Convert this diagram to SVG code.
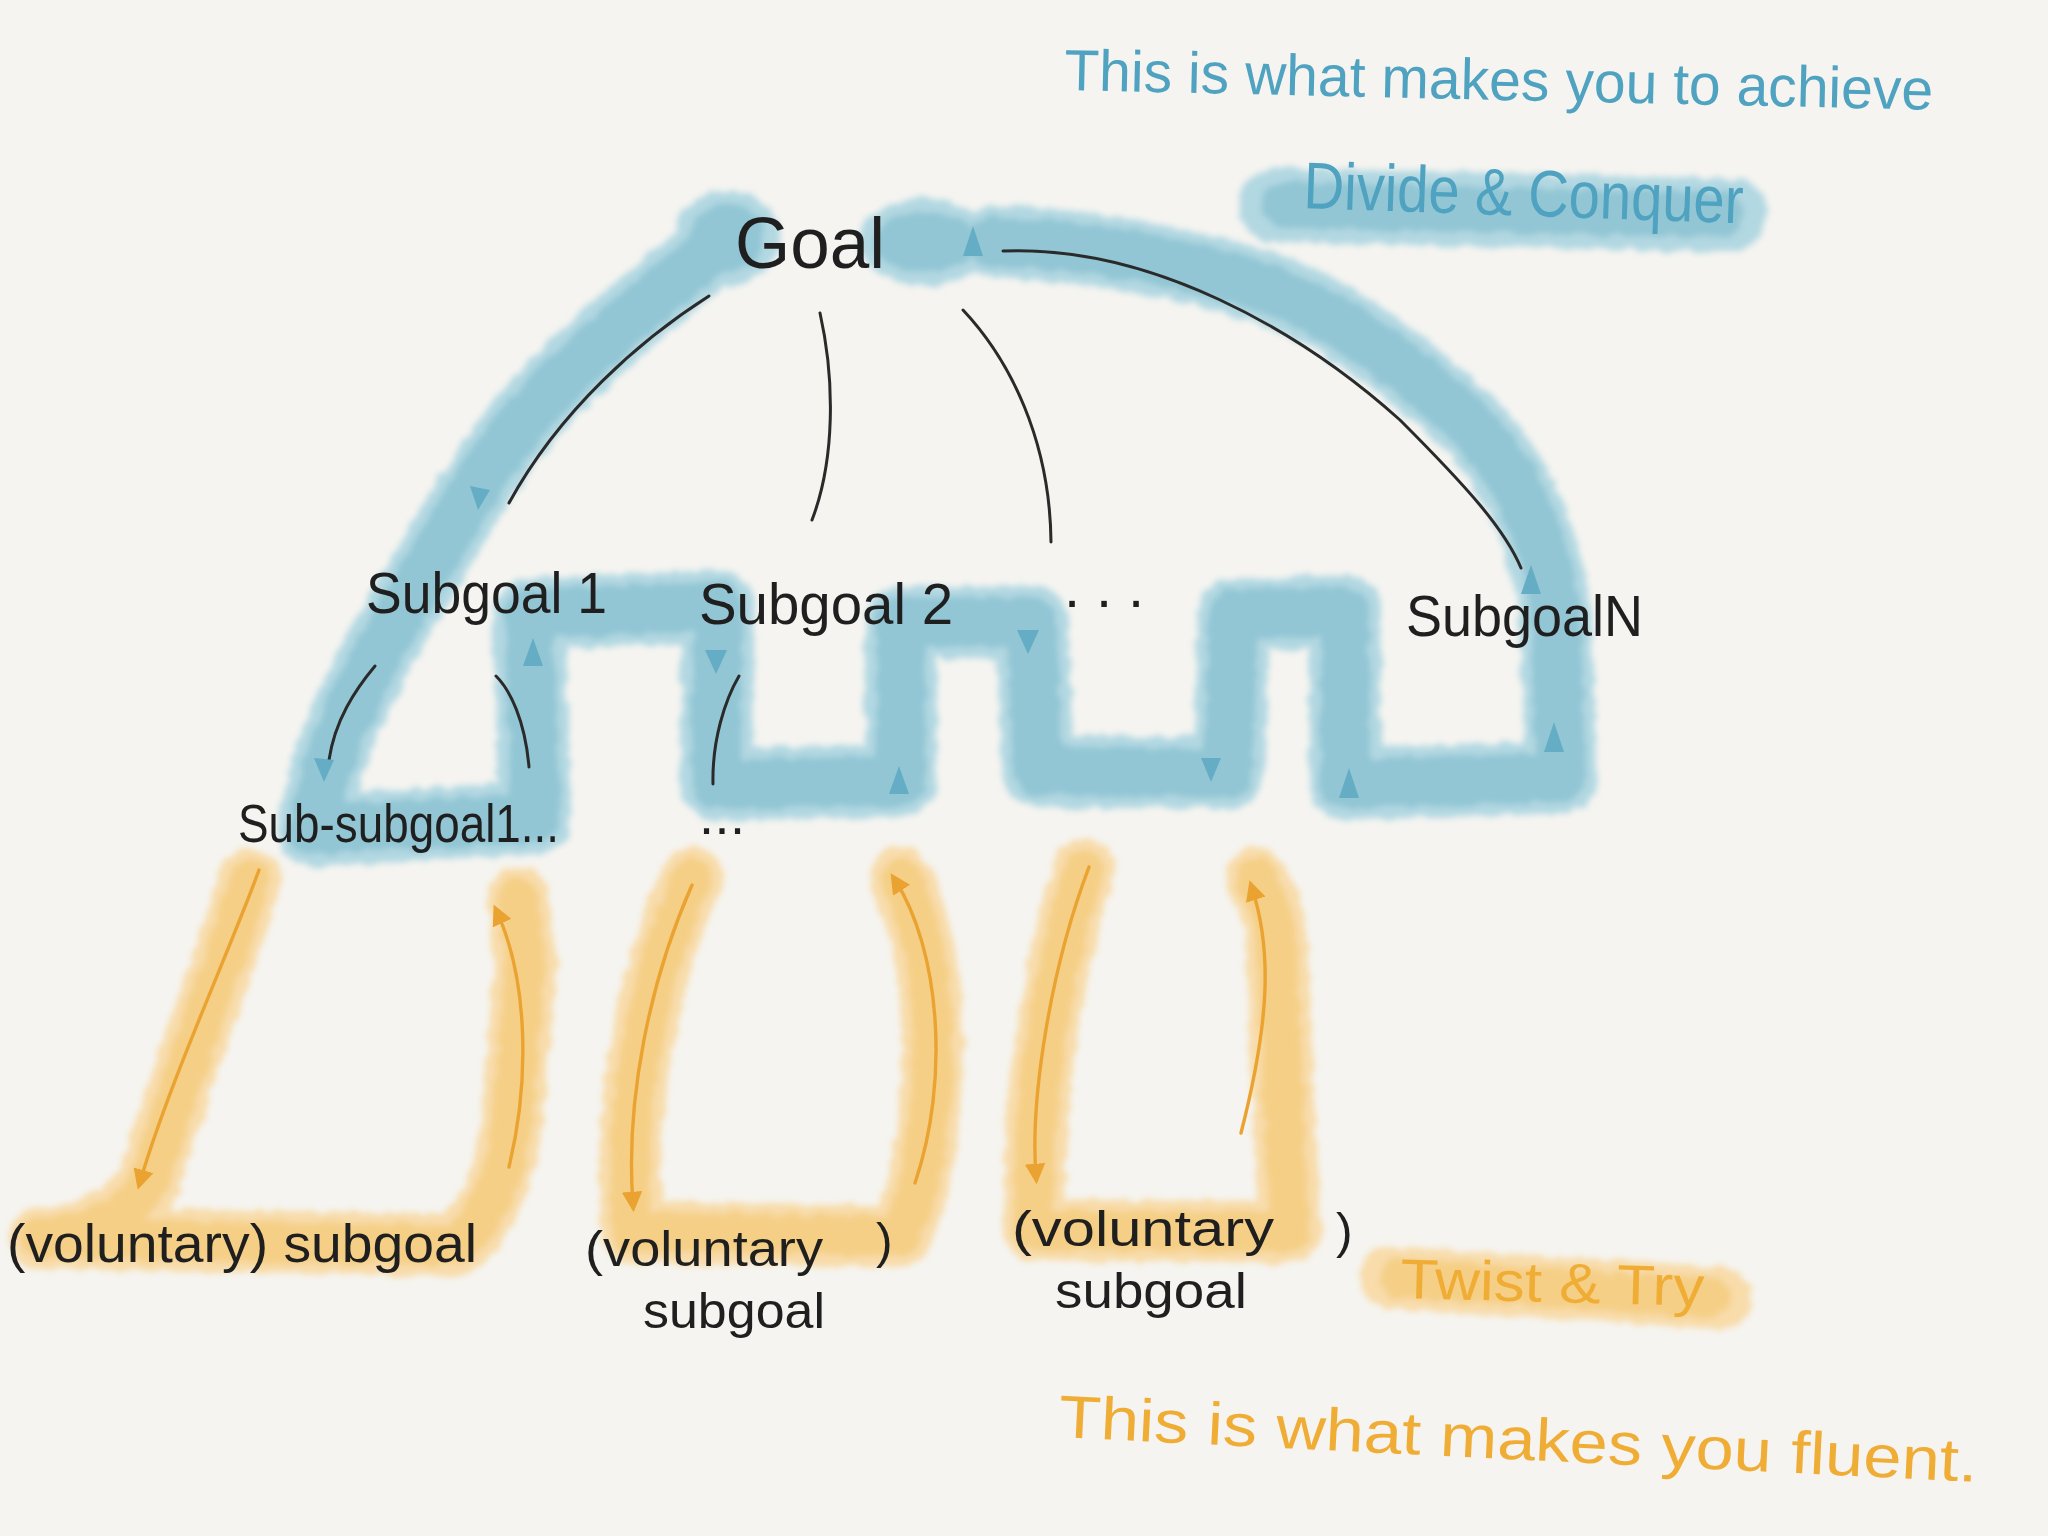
<svg xmlns="http://www.w3.org/2000/svg" width="2048" height="1536" viewBox="0 0 2048 1536">
<style>
.bg{fill:#f5f4f0}
.bo{fill:none;stroke:#b2d8e2;stroke-linecap:round;stroke-linejoin:round}
.bi{fill:none;stroke:#92c6d4;stroke-linecap:round;stroke-linejoin:round}
.oo{fill:none;stroke:#f8dcaa;stroke-linecap:round;stroke-linejoin:round}
.oi{fill:none;stroke:#f5cf86;stroke-linecap:round;stroke-linejoin:round}
.ink{fill:none;stroke:#2a2a2a;stroke-width:3;stroke-linecap:round}
.oline{fill:none;stroke:#eaa331;stroke-width:3.4;stroke-linecap:round}
.barrow{fill:#64adc5}
.t{font-family:"Liberation Sans","DejaVu Sans",sans-serif;fill:#1f1f1f}
.tb{font-family:"Liberation Sans","DejaVu Sans",sans-serif;fill:#4fa2c0}
.to{font-family:"Liberation Sans","DejaVu Sans",sans-serif;fill:#f0ad36}
</style>
<defs>
<filter id="wc" x="-10%" y="-10%" width="120%" height="120%">
<feTurbulence type="fractalNoise" baseFrequency="0.07" numOctaves="2" seed="4" result="n"/>
<feDisplacementMap in="SourceGraphic" in2="n" scale="10" xChannelSelector="R" yChannelSelector="G"/>
<feGaussianBlur stdDeviation="3"/>
</filter>
<marker id="oa" viewBox="0 0 10 10" refX="6" refY="5" markerWidth="6" markerHeight="6" orient="auto-start-reverse" markerUnits="strokeWidth">
<path d="M0,0 L10,5 L0,10 z" fill="#eaa331"/>
</marker>
</defs>
<rect class="bg" width="2048" height="1536"/>

<!-- washes -->
<g id="washes" filter="url(#wc)">
<path id="bpath" class="bo" stroke-width="72" d="M705,255 C650,300 590,350 549,392 C500,445 460,510 431,562 C390,630 350,700 330,760 L312,830 L535,818 L529,614 L718,606 L716,784 L901,781 L901,622 L1032,622 L1038,771 L1228,773 L1234,614 L1345,611 L1345,784 L1561,777 L1556,620 C1545,520 1500,450 1463,418 C1400,360 1320,300 1241,281 C1170,258 1080,245 993,242"/>
<ellipse cx="727" cy="238" rx="52" ry="48" fill="#b2d8e2"/>
<ellipse cx="925" cy="242" rx="66" ry="44" fill="#b2d8e2"/>
<path class="bi" stroke-width="50" d="M705,255 C650,300 590,350 549,392 C500,445 460,510 431,562 C390,630 350,700 330,760 L312,830 L535,818 L529,614 L718,606 L716,784 L901,781 L901,622 L1032,622 L1038,771 L1228,773 L1234,614 L1345,611 L1345,784 L1561,777 L1556,620 C1545,520 1500,450 1463,418 C1400,360 1320,300 1241,281 C1170,258 1080,245 993,242"/>
<ellipse cx="727" cy="238" rx="38" ry="34" fill="#92c6d4"/>
<ellipse cx="925" cy="242" rx="52" ry="30" fill="#92c6d4"/>
<path class="bo" stroke-width="74" d="M1275,205 L1730,215"/>
<path class="bi" stroke-width="46" d="M1285,205 L1720,215"/>

<path class="oo" stroke-width="62" d="M250,880 C225,960 180,1080 150,1180 Q120,1232 40,1238 L455,1245 Q500,1215 512,1120 L526,960 L518,898"/>
<path class="oo" stroke-width="62" d="M692,878 C650,970 630,1080 630,1180 L632,1232 L900,1236 Q925,1190 932,1080 C936,1000 925,930 901,878"/>
<path class="oo" stroke-width="62" d="M1084,870 C1055,960 1036,1080 1034,1180 L1034,1230 L1290,1232 Q1286,1180 1282,1060 L1275,920 L1256,878"/>
<path class="oo" stroke-width="62" d="M1390,1278 L1720,1298"/>
<path class="oi" stroke-width="40" d="M250,880 C225,960 180,1080 150,1180 Q120,1232 40,1238 L455,1245 Q500,1215 512,1120 L526,960 L518,898"/>
<path class="oi" stroke-width="40" d="M692,878 C650,970 630,1080 630,1180 L632,1232 L900,1236 Q925,1190 932,1080 C936,1000 925,930 901,878"/>
<path class="oi" stroke-width="40" d="M1084,870 C1055,960 1036,1080 1034,1180 L1034,1230 L1290,1232 Q1286,1180 1282,1060 L1275,920 L1256,878"/>
<path class="oi" stroke-width="40" d="M1400,1278 L1710,1298"/>
</g>

<!-- connectors -->
<g id="connectors">
<path class="ink" d="M709,296 C640,340 560,410 509,503"/>
<path class="ink" d="M820,313 C835,380 835,460 812,520"/>
<path class="ink" d="M963,310 C1010,360 1050,440 1051,542"/>
<path class="ink" stroke-width="3.8" d="M1003,251 C1150,245 1300,330 1400,420 C1470,490 1505,530 1521,568"/>
<path class="ink" d="M375,666 C355,690 335,720 329,760"/>
<path class="ink" d="M496,676 C510,690 525,720 529,767"/>
<path class="ink" d="M739,676 C725,700 712,740 713,784"/>
<path class="oline" marker-end="url(#oa)" d="M259,870 C230,950 170,1080 140,1182"/>
<path class="oline" marker-end="url(#oa)" d="M509,1167 C530,1080 528,980 497,912"/>
<path class="oline" marker-end="url(#oa)" d="M692,885 C650,980 625,1100 633,1204"/>
<path class="oline" marker-end="url(#oa)" d="M915,1183 C950,1080 940,950 895,880"/>
<path class="oline" marker-end="url(#oa)" d="M1089,867 C1050,970 1030,1100 1036,1176"/>
<path class="oline" marker-end="url(#oa)" d="M1241,1133 C1270,1020 1272,950 1252,888"/>
<!-- blue arrowheads along the wash -->
<polygon class="barrow" points="973,226 963,256 983,256"/>
<polygon class="barrow" points="478,510 470,486 490,490"/>
<polygon class="barrow" points="324,782 314,758 334,760"/>
<polygon class="barrow" points="533,638 523,666 543,666"/>
<polygon class="barrow" points="716,674 705,650 727,650"/>
<polygon class="barrow" points="899,766 889,794 909,794"/>
<polygon class="barrow" points="1028,654 1017,630 1039,630"/>
<polygon class="barrow" points="1211,782 1201,758 1221,758"/>
<polygon class="barrow" points="1349,768 1339,798 1359,798"/>
<polygon class="barrow" points="1554,722 1544,752 1564,752"/>
<polygon class="barrow" points="1531,565 1521,594 1541,594"/>
</g>

<!-- nodes -->
<g id="goal"><text class="t" x="735" y="268" font-size="72" textLength="150" lengthAdjust="spacingAndGlyphs">Goal</text></g>
<g id="subgoal1"><text class="t" x="366" y="613" font-size="58" textLength="241" lengthAdjust="spacingAndGlyphs">Subgoal 1</text></g>
<g id="subgoal2"><text class="t" x="699" y="624" font-size="58" textLength="254" lengthAdjust="spacingAndGlyphs">Subgoal 2</text></g>
<g id="ellipsis1"><text class="t" x="1064" y="607" font-size="58" textLength="80" lengthAdjust="spacing">...</text></g>
<g id="subgoalN"><text class="t" x="1406" y="636" font-size="58" textLength="237" lengthAdjust="spacingAndGlyphs">SubgoalN</text></g>
<g id="subsubgoal1"><text class="t" x="238" y="842" font-size="54" textLength="321" lengthAdjust="spacingAndGlyphs">Sub-subgoal1...</text></g>
<g id="ellipsis2"><text class="t" x="699" y="834" font-size="54" textLength="46" lengthAdjust="spacing">...</text></g>
<g id="voluntary1"><text class="t" x="7" y="1262" font-size="54" textLength="470" lengthAdjust="spacingAndGlyphs">(voluntary) subgoal</text></g>
<g id="voluntary2">
<text class="t" x="585" y="1266" font-size="50" textLength="238" lengthAdjust="spacingAndGlyphs">(voluntary</text>
<text class="t" x="876" y="1258" font-size="50">)</text>
<text class="t" x="643" y="1328" font-size="50" textLength="182" lengthAdjust="spacingAndGlyphs">subgoal</text>
</g>
<g id="voluntary3">
<text class="t" x="1012" y="1246" font-size="50" textLength="262" lengthAdjust="spacingAndGlyphs">(voluntary</text>
<text class="t" x="1336" y="1248" font-size="50">)</text>
<text class="t" x="1055" y="1308" font-size="50" textLength="192" lengthAdjust="spacingAndGlyphs">subgoal</text>
</g>

<!-- notes -->
<g id="note-top">
<text class="tb" x="1064" y="90" font-size="58" textLength="869" lengthAdjust="spacingAndGlyphs" transform="rotate(1.3 1064 90)">This is what makes you to achieve</text>
</g>
<g id="divide-conquer">
<text class="tb" x="1303" y="208" font-size="66" textLength="440" lengthAdjust="spacingAndGlyphs" transform="rotate(2 1303 208)">Divide &amp; Conquer</text>
</g>
<g id="twist-try">
<text class="to" x="1400" y="1298" font-size="56" textLength="304" lengthAdjust="spacingAndGlyphs" transform="rotate(1.5 1400 1298)">Twist &amp; Try</text>
</g>
<g id="note-bottom">
<text class="to" x="1058" y="1437" font-size="60" textLength="920" lengthAdjust="spacingAndGlyphs" transform="rotate(2.8 1058 1437)">This is what makes you fluent.</text>
</g>
</svg>
